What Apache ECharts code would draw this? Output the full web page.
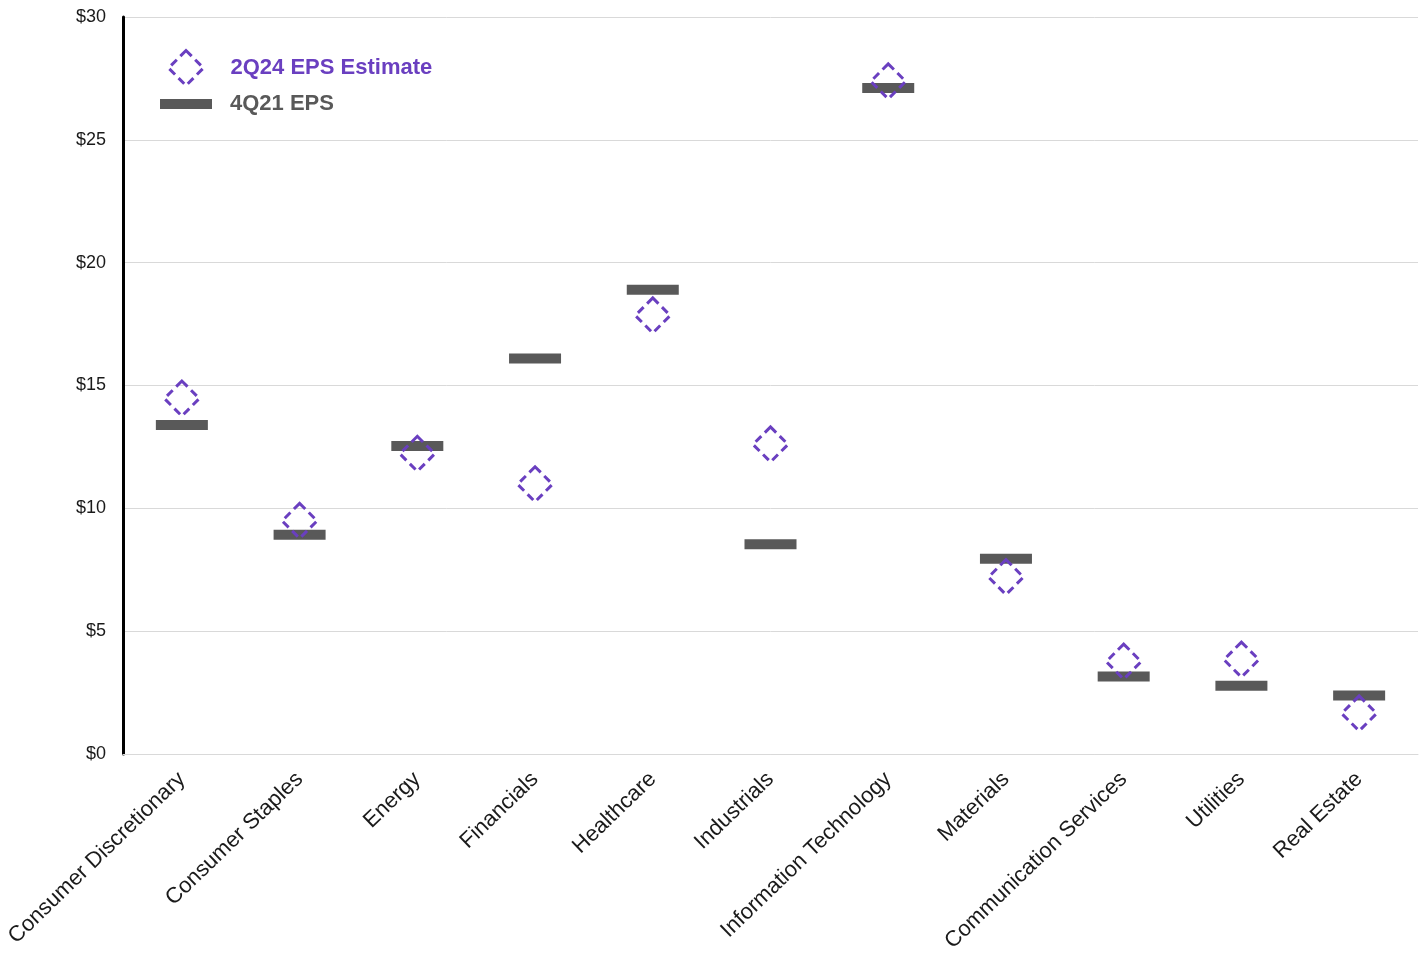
<!DOCTYPE html>
<html>
<head>
<meta charset="utf-8">
<script src="https://cdn.jsdelivr.net/npm/echarts@6/dist/echarts.min.js"></script>
<style>
  html, body { margin: 0; padding: 0; background: #fff; }
  #chart { width: 1425px; height: 955px; }
</style>
</head>
<body>
<div id="chart"></div>
<script>
// Sector EPS: 4Q21 actual vs 2Q24 estimate
const sectors = [
  'Consumer Discretionary', 'Consumer Staples', 'Energy', 'Financials',
  'Healthcare', 'Industrials', 'Information Technology', 'Materials',
  'Communication Services', 'Utilities', 'Real Estate'
];
const eps4Q21 = [13.39, 8.92, 12.54, 16.10, 18.90, 8.54, 27.11, 7.95, 3.15, 2.78, 2.38];
const eps2Q24Est = [14.47, 9.49, 12.22, 10.98, 17.85, 12.60, 27.38, 7.20, 3.76, 3.84, 1.65];
const yTicks = [0, 5, 10, 15, 20, 25, 30];

const NAME_EST = '2Q24 EPS Estimate';
const NAME_ACT = '4Q21 EPS';
const PURPLE = '#6a3fc0';
const GRAY = '#595959';
const FONT = 'Liberation Sans, Arial, sans-serif';
const DASH = [8, 5];

const chart = echarts.init(document.getElementById('chart'), null, { renderer: 'canvas' });

chart.setOption({
  animation: false,
  backgroundColor: '#ffffff',
  grid: { left: 123, right: 7, top: 17, bottom: 200, containLabel: false },
  legend: [
    {
      data: [NAME_EST],
      orient: 'vertical',
      left: 162, top: 44,
      itemWidth: 35, itemHeight: 35,
      selectedMode: false,
      itemStyle: { color: 'rgba(255,255,255,0)', borderColor: PURPLE, borderWidth: 3, borderType: DASH },
      textStyle: { color: PURPLE, fontFamily: FONT, fontSize: 22, fontWeight: 'bold', padding: [0, 0, 0, 22] }
    },
    {
      data: [NAME_ACT],
      orient: 'vertical',
      left: 155, top: 88,
      itemWidth: 52, itemHeight: 10,
      selectedMode: false,
      textStyle: { color: GRAY, fontFamily: FONT, fontSize: 22, fontWeight: 'bold', padding: [0, 0, 0, 13] }
    }
  ],
  xAxis: {
    type: 'category',
    data: sectors,
    axisLine: { show: true, lineStyle: { color: '#d9d9d9', width: 1 } },
    axisTick: { show: false },
    axisLabel: {
      rotate: 44,
      interval: 0,
      margin: 22,
      color: '#1a1a1a',
      fontFamily: FONT,
      fontSize: 22
    }
  },
  yAxis: {
    type: 'value',
    min: yTicks[0],
    max: yTicks[yTicks.length - 1],
    interval: 5,
    axisLine: { show: true, lineStyle: { color: '#000000', width: 3 } },
    axisTick: { show: false },
    splitLine: { show: true, lineStyle: { color: '#d9d9d9', width: 1 } },
    axisLabel: {
      formatter: v => '$' + v,
      color: '#1a1a1a',
      fontFamily: FONT,
      fontSize: 18,
      margin: 17
    }
  },
  series: [
    {
      name: NAME_ACT,
      type: 'scatter',
      data: eps4Q21,
      symbol: 'rect',
      symbolSize: [52, 10],
      itemStyle: { color: GRAY, opacity: 1 },
      z: 2
    },
    {
      name: NAME_EST,
      type: 'scatter',
      data: eps2Q24Est,
      symbol: 'diamond',
      symbolSize: 35,
      itemStyle: {
        color: 'rgba(255,255,255,0)',
        borderColor: PURPLE,
        borderWidth: 3,
        borderType: DASH,
        opacity: 1
      },
      z: 3
    }
  ]
});
</script>
</body>
</html>
